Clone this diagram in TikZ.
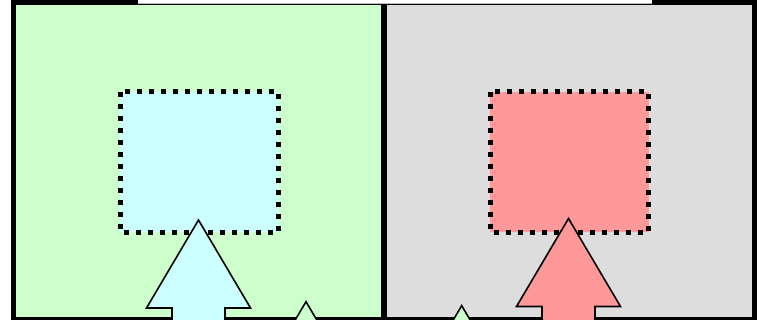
\documentclass[tikz,border=0pt]{standalone}
\definecolor{panelgreen}{HTML}{CCFFCC}
\definecolor{panelgrey}{HTML}{DDDDDD}
\definecolor{boxcyan}{HTML}{CCFFFF}
\definecolor{boxred}{HTML}{FF9999}
\definecolor{edgegrey}{HTML}{BBBBBB}
\tikzset{
  frameline/.style={line width=5.5pt, draw=black},
  dotbox/.style={draw=black, line width=5pt, dash pattern=on 5pt off 7pt},
  arrowline/.style={draw=black, line width=1.6pt, line join=miter},
  uparrow/.pic={
    \path[arrowline, pic actions] (0,0) -- (52,88) -- (26.5,88) -- (26.5,150)
      -- (-26.5,150) -- (-26.5,88) -- (-52,88) -- cycle;
  }
}
\begin{document}
\begin{tikzpicture}[x=1pt,y=-1pt]
\useasboundingbox (0,0) rectangle (765,320);
\clip (0,0) rectangle (765,320);
\fill[white] (0,0) rectangle (765,320);
% panels
\fill[panelgreen] (13.5,2.5) rectangle (384,320);
\fill[panelgrey] (384,2.5) rectangle (754.5,320);
% outer frame
\draw[frameline] (13.5,2.5) rectangle (754.5,319.5);
% gap in the top edge
\fill[white] (138,-1) rectangle (652,3.5);
\draw[edgegrey, line width=1pt] (138,4) -- (652,4);
% divider
\draw[frameline] (384,4) -- (384,322);
% dotted boxes
\filldraw[fill=boxcyan, dotbox] (120,92) rectangle (278.5,232.5);
\filldraw[fill=boxred, dotbox] (490,92) rectangle (648.5,232.5);
% arrows
\pic[fill=boxcyan] at (198.5,220) {uparrow};
\pic[fill=boxred] at (568.5,218.5) {uparrow};
\pic[fill=panelgreen] at (306,301.7) {uparrow};
\pic[fill=panelgreen] at (461.7,305.7) {uparrow};
\end{tikzpicture}
\end{document}
